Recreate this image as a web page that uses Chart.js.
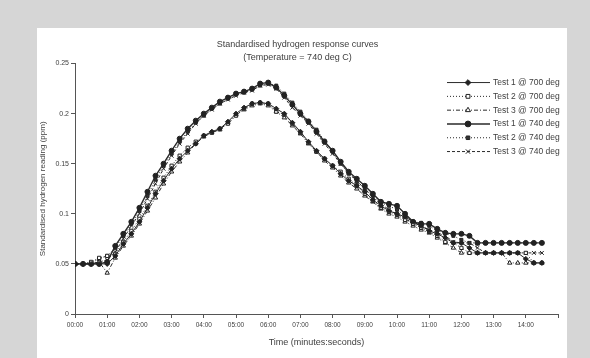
<!DOCTYPE html>
<html>
<head>
<meta charset="utf-8">
<script src="https://cdn.jsdelivr.net/npm/chart.js@4/dist/chart.umd.min.js"></script>
<style>
  body { margin: 0; background: #d6d6d6; width: 590px; height: 358px; overflow: hidden; }
  #panel { position: absolute; left: 37px; top: 28px; width: 530px; height: 330px; background: #fff; overflow: hidden; }
</style>
</head>
<body>
<div id="panel"><canvas id="chart"></canvas></div>
<script>
const times = [
  '00:00','00:15','00:30','00:45','01:00','01:15','01:30','01:45',
  '02:00','02:15','02:30','02:45','03:00','03:15','03:30','03:45',
  '04:00','04:15','04:30','04:45','05:00','05:15','05:30','05:45',
  '06:00','06:15','06:30','06:45','07:00','07:15','07:30','07:45',
  '08:00','08:15','08:30','08:45','09:00','09:15','09:30','09:45',
  '10:00','10:15','10:30','10:45','11:00','11:15','11:30','11:45',
  '12:00','12:15','12:30','12:45','13:00','13:15','13:30','13:45',
  '14:00','14:15','14:30'
];
const xTickLabels = ['00:00','01:00','02:00','03:00','04:00','05:00','06:00','07:00',
  '08:00','09:00','10:00','11:00','12:00','13:00','14:00'];

const seriesNames = ['Test 1 @ 700 deg','Test 2 @ 700 deg','Test 3 @ 700 deg',
  'Test 1 @ 740 deg','Test 2 @ 740 deg','Test 3 @ 740 deg'];

const test1At700 = [
  0.050,0.050,0.050,0.050, 0.050,0.058,0.070,0.080, 0.092,0.106,0.120,0.133,
  0.145,0.155,0.163,0.170, 0.178,0.182,0.185,0.192, 0.200,0.206,0.210,0.211,
  0.210,0.205,0.200,0.191, 0.182,0.172,0.163,0.155, 0.148,0.140,0.133,0.128,
  0.122,0.114,0.108,0.103, 0.100,0.097,0.092,0.088, 0.083,0.080,0.076,0.071,
  0.071,0.066,0.061,0.061, 0.061,0.061,0.061,0.061, 0.055,0.051,0.051
];
const test2At700 = [
  0.050,0.050,0.052,0.056, 0.058,0.060,0.072,0.083, 0.095,0.108,0.122,0.136,
  0.148,0.158,0.166,0.172, 0.178,0.181,0.185,0.190, 0.198,0.205,0.210,0.211,
  0.210,0.202,0.199,0.190, 0.181,0.171,0.162,0.155, 0.148,0.142,0.135,0.128,
  0.120,0.113,0.106,0.102, 0.099,0.094,0.090,0.086, 0.082,0.078,0.072,0.071,
  0.066,0.061,0.061,0.061, 0.061,0.061,0.061,0.061, 0.061,0.051,0.051
];
const test3At700 = [
  0.050,0.050,0.050,0.052, 0.041,0.056,0.068,0.078, 0.090,0.103,0.116,0.130,
  0.142,0.152,0.161,0.170, 0.177,0.181,0.184,0.191, 0.199,0.204,0.208,0.210,
  0.208,0.202,0.196,0.188, 0.180,0.170,0.162,0.153, 0.146,0.138,0.131,0.125,
  0.118,0.112,0.105,0.100, 0.097,0.092,0.088,0.084, 0.081,0.076,0.071,0.066,
  0.061,0.061,0.061,0.061, 0.061,0.061,0.051,0.051, 0.051,0.051,0.051
];
const test1At740 = [
  0.050,0.050,0.050,0.050, 0.052,0.068,0.080,0.092, 0.106,0.122,0.138,0.150,
  0.163,0.175,0.185,0.193, 0.200,0.206,0.212,0.216, 0.220,0.222,0.225,0.230,
  0.231,0.226,0.218,0.209, 0.200,0.192,0.182,0.172, 0.163,0.152,0.142,0.135,
  0.128,0.120,0.112,0.110, 0.108,0.100,0.092,0.090, 0.090,0.085,0.081,0.080,
  0.080,0.078,0.071,0.071, 0.071,0.071,0.071,0.071, 0.071,0.071,0.071
];
const test2At740 = [
  0.050,0.050,0.051,0.055, 0.058,0.066,0.078,0.090, 0.103,0.118,0.134,0.148,
  0.160,0.172,0.182,0.191, 0.198,0.205,0.210,0.215, 0.219,0.221,0.224,0.228,
  0.230,0.228,0.220,0.211, 0.202,0.193,0.184,0.173, 0.162,0.150,0.140,0.132,
  0.125,0.118,0.111,0.108, 0.104,0.098,0.092,0.091, 0.088,0.083,0.081,0.078,
  0.074,0.071,0.071,0.071, 0.071,0.071,0.071,0.071, 0.071,0.071,0.071
];
const test3At740 = [
  0.050,0.050,0.050,0.052, 0.054,0.062,0.075,0.088, 0.100,0.115,0.130,0.145,
  0.158,0.170,0.180,0.190, 0.198,0.204,0.210,0.214, 0.218,0.221,0.223,0.228,
  0.229,0.225,0.216,0.206, 0.198,0.190,0.180,0.170, 0.160,0.150,0.141,0.133,
  0.125,0.116,0.110,0.104, 0.100,0.095,0.091,0.088, 0.084,0.081,0.078,0.072,
  0.071,0.071,0.066,0.061, 0.061,0.061,0.061,0.061, 0.061,0.061,0.061
];

const FONT = '"Liberation Sans", Arial, sans-serif';
const TEXT = '#404040';

function toMinutes(t) {
  const [h, m] = t.split(':');
  return (+h) * 60 + (+m);
}

function points(values) {
  return values.map((v, i) => ({ x: toMinutes(times[i]), y: v }));
}

const styles = [
  { dash: [], width: 1, point: 'rectRot', fill: '#222', r: 2.5 },
  { dash: [1, 2], width: 1, point: 'rect', fill: '#fff', r: 2.3 },
  { dash: [4, 2, 1, 2], width: 1, point: 'triangle', fill: '#fff', r: 2.5 },
  { dash: [], width: 1.4, point: 'circle', fill: '#222', r: 2.5 },
  { dash: [1, 2], width: 1, point: 'rect', fill: '#333', r: 2.1 },
  { dash: [3, 2], width: 1, point: 'crossRot', fill: '#222', r: 2.7 }
];

const allSeries = [test1At700, test2At700, test3At700, test1At740, test2At740, test3At740];

const datasets = allSeries.map((vals, i) => ({
  label: seriesNames[i],
  data: points(vals),
  borderColor: '#2a2a2a',
  borderWidth: styles[i].width,
  borderDash: styles[i].dash,
  pointStyle: styles[i].point,
  pointRadius: styles[i].r,
  pointBorderWidth: 1,
  pointBorderColor: '#222',
  pointBackgroundColor: styles[i].fill,
  tension: 0,
  fill: false
}));

// legend drawn inside the plot area, top right
const sideLegend = {
  id: 'sideLegend',
  afterDraw(chart) {
    const { ctx, chartArea } = chart;
    const x0 = chartArea.right - 111;
    const y0 = chartArea.top + 19;
    ctx.save();
    ctx.font = '8.5px ' + FONT;
    ctx.textBaseline = 'middle';
    chart.data.datasets.forEach((ds, i) => {
      const y = y0 + i * 13.8;
      ctx.strokeStyle = ds.borderColor;
      ctx.lineWidth = ds.borderWidth;
      ctx.setLineDash(ds.borderDash);
      ctx.beginPath();
      ctx.moveTo(x0, y);
      ctx.lineTo(x0 + 43, y);
      ctx.stroke();
      ctx.setLineDash([]);
      ctx.fillStyle = ds.pointBackgroundColor;
      ctx.strokeStyle = ds.pointBorderColor;
      ctx.lineWidth = 1;
      Chart.helpers.drawPoint(ctx, {
        pointStyle: ds.pointStyle, radius: ds.pointRadius + 0.4, borderWidth: 1, rotation: 0
      }, x0 + 21, y);
      ctx.fillStyle = TEXT;
      ctx.fillText(ds.label, x0 + 46, y);
    });
    ctx.restore();
  }
};

chart = new Chart(document.getElementById('chart'), {
  type: 'line',
  data: { datasets },
  plugins: [sideLegend],
  options: {
    responsive: true,
    maintainAspectRatio: false,
    animation: false,
    layout: { padding: { left: 0, right: 9, top: 0, bottom: 0 } },
    plugins: {
      legend: { display: false },
      tooltip: { enabled: false },
      title: {
        display: true,
        text: ['Standardised hydrogen response curves', '(Temperature = 740 deg C)'],
        color: TEXT,
        font: { family: FONT, size: 9, weight: 'normal', lineHeight: 1.42 },
        padding: { top: 10, bottom: 0 }
      }
    },
    scales: {
      x: {
        type: 'linear',
        min: 0,
        max: 900,
        afterFit: s => { s.height = 44; },
        ticks: {
          stepSize: 60,
          autoSkip: false,
          maxRotation: 0,
          padding: 3,
          color: TEXT,
          font: { family: FONT, size: 6.5 },
          callback: v => xTickLabels[v / 60] ?? ''
        },
        grid: { drawOnChartArea: false, drawTicks: true, tickLength: 4, color: '#555' },
        border: { display: true, color: '#555', width: 1 },
        title: {
          display: true,
          text: 'Time (minutes:seconds)',
          color: TEXT,
          font: { family: FONT, size: 9 },
          padding: { top: 10, bottom: 10 }
        }
      },
      y: {
        min: 0,
        max: 0.25,
        afterFit: s => { s.width = 38; },
        ticks: {
          stepSize: 0.05,
          padding: 2,
          color: TEXT,
          font: { family: FONT, size: 7 },
          callback: v => String(+v.toFixed(2))
        },
        grid: { drawOnChartArea: false, drawTicks: true, tickLength: 4, color: '#555' },
        border: { display: true, color: '#555', width: 1 },
        title: {
          display: true,
          text: 'Standardised hydrogen reading (ppm)',
          color: TEXT,
          font: { family: FONT, size: 8 },
          padding: { top: 1, bottom: 1 }
        }
      }
    }
  }
});
</script>
</body>
</html>
